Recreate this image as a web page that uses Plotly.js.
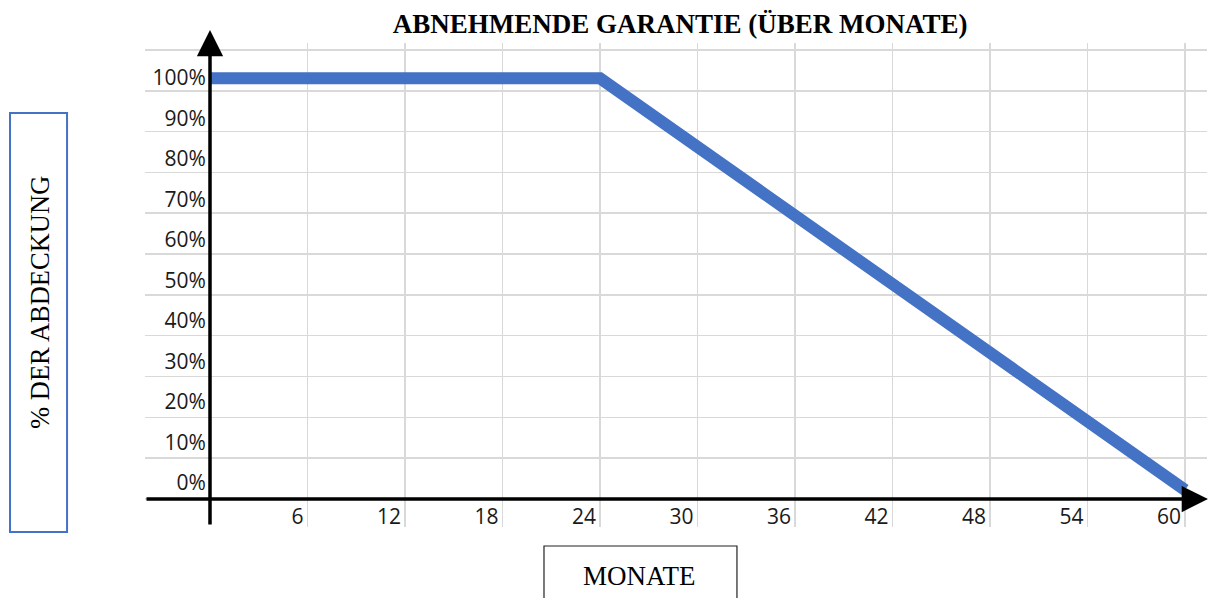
<!DOCTYPE html>
<html>
<head>
<meta charset="utf-8">
<script src="https://cdn.plot.ly/plotly-3.0.1.min.js"></script>
<style>
html,body{margin:0;padding:0;background:#fff;}
#chart{width:1209px;height:598px;}
</style>
</head>
<body>
<div id="chart"></div>
<script>
// ---- data ----
const months = [0, 24, 60];
const coverage = [100, 100, 0];
const xTickVals = [6, 12, 18, 24, 30, 36, 42, 48, 54, 60];
const yTickVals = [0, 10, 20, 30, 40, 50, 60, 70, 80, 90, 100];
const yTickText = ["0%", "10%", "20%", "30%", "40%", "50%", "60%", "70%", "80%", "90%", "100%"];
const gridRows = [0, 1, 2, 3, 4, 5, 6, 7, 8, 9, 10, 11];

const titleText = "ABNEHMENDE GARANTIE (ÜBER MONATE)";
const xTitle = "MONATE";
const yTitle = "% DER ABDECKUNG";

const blue = "#4472C4";
const gridColor = "#d9d9d9";
const tickFont = {family: "Open Sans, sans-serif", size: 21, color: "#1a1a1a"};
const serif = "Liberation Serif, Times New Roman, serif";

const traces = [
  {x: months, y: coverage, type: "scatter", mode: "lines", yaxis: "y",
   line: {color: blue, width: 12}, showlegend: false, hoverinfo: "x+y"},
  {x: [], y: [], type: "scatter", mode: "lines", yaxis: "y2", showlegend: false},
  {x: [], y: [], type: "scatter", mode: "lines", yaxis: "y3", showlegend: false}
];

const layout = {
  width: 1209, height: 598,
  margin: {l: 145, r: 2, t: 43, b: 71},
  paper_bgcolor: "#fff", plot_bgcolor: "#fff",
  showlegend: false,
  title: {text: "<b>" + titleText + "</b>", x: 0.5038, xref: "paper", xanchor: "center",
          y: 0.96, yref: "container", yanchor: "middle",
          font: {family: serif, size: 27, color: "#000"}},
  xaxis: {range: [-4.0, 61.35], tickvals: xTickVals, ticktext: xTickVals.map(String),
          showgrid: true, gridcolor: gridColor, gridwidth: 1.5,
          zeroline: false, showline: false, ticks: "",
          ticklabelposition: "inside left", ticklabelstandoff: -7, ticklabelshift: -4,
          tickfont: tickFont},
  yaxis: {range: [-8.99, 108.57], showgrid: false, zeroline: false, showline: false,
          showticklabels: false, ticks: ""},
  yaxis2: {range: [-10.86, 108.64], overlaying: "y", anchor: "free", position: 0.0612,
           side: "left", tickvals: yTickVals, ticktext: yTickText, ticklabelstandoff: 4,
           showgrid: false, zeroline: false, showline: false, ticks: "", tickfont: tickFont},
  yaxis3: {range: [-0.686, 11.17], overlaying: "y", tickvals: gridRows,
           showgrid: true, gridcolor: gridColor, gridwidth: 1.5, showticklabels: false,
           zeroline: false, showline: false, ticks: ""},
  shapes: [
    {type: "line", xref: "x", yref: "paper", x0: months[1], x1: months[1], y0: 0, y1: 0.981,
     line: {color: "#555", width: 1.5, dash: "dot"}, layer: "below"},
    {type: "rect", xref: "paper", yref: "paper", x0: -0.1271, x1: -0.0734, y0: -0.0103, y1: 0.8554,
     line: {color: blue, width: 2}, fillcolor: "rgba(0,0,0,0)"},
    {type: "rect", xref: "paper", yref: "paper", x0: 0.3757, x1: 0.5574, y0: -0.1529, y1: -0.0393,
     line: {color: "#222", width: 1.2}, fillcolor: "rgba(0,0,0,0)"}
  ],
  annotations: [
    // y axis line with arrow
    {xref: "x", yref: "paper", x: 0, y: 1.0269, axref: "x", ayref: "paper", ax: 0, ay: 0.002,
     text: "", showarrow: true, arrowhead: 2, arrowsize: 1.5, arrowwidth: 3.5, arrowcolor: "#000"},
    // x axis line with arrow
    {xref: "paper", yref: "y3", x: 1.0009, y: 0, axref: "paper", ayref: "y3", ax: 0, ay: 0,
     text: "", showarrow: true, arrowhead: 2, arrowsize: 1.5, arrowwidth: 3.5, arrowcolor: "#000"},
    {xref: "paper", yref: "paper", x: -0.0989, y: 0.4649, text: yTitle, textangle: -90,
     showarrow: false, xanchor: "center", yanchor: "middle",
     font: {family: serif, size: 26.5, color: "#000"}},
    {xref: "paper", yref: "paper", x: 0.4661, y: -0.1012, text: xTitle,
     showarrow: false, xanchor: "center", yanchor: "middle",
     font: {family: serif, size: 27, color: "#000"}}
  ]
};

Plotly.newPlot("chart", traces, layout, {displayModeBar: false, staticPlot: true});
</script>
</body>
</html>
